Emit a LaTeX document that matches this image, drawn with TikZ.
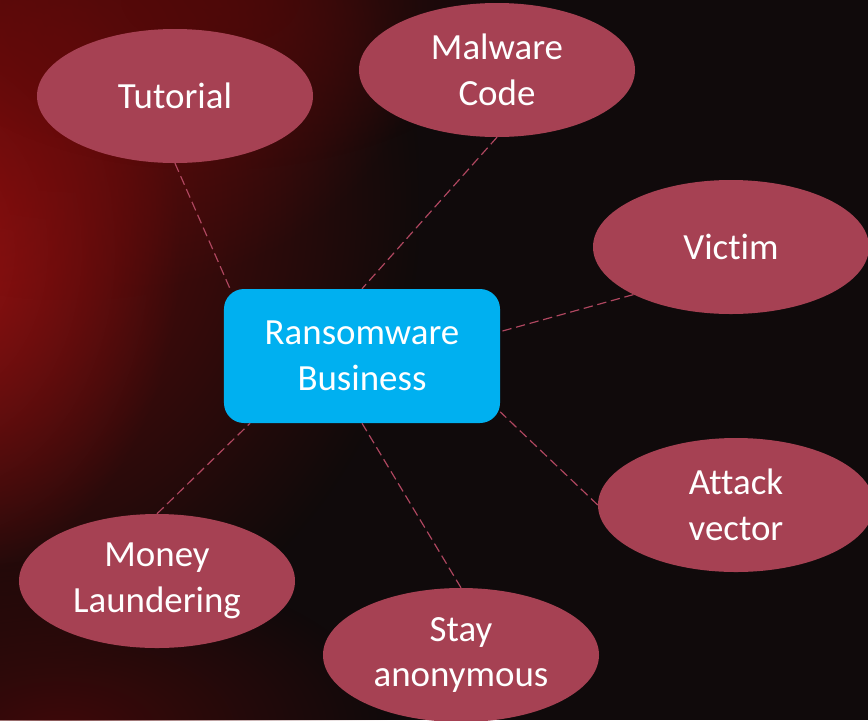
\documentclass[tikz,border=0pt]{standalone}
\usepackage{fontspec}
\setmainfont{Carlito}[Ligatures=CommonOff]
\usepackage{tikz}
\usetikzlibrary{shapes.geometric, positioning, fadings}
\definecolor{bgdark}{HTML}{100A0B}
\definecolor{glowred}{HTML}{9A1212}
\definecolor{glowdeep}{HTML}{6A0A0A}
\definecolor{glowdim}{HTML}{520808}
\definecolor{topicrose}{HTML}{A64153}
\definecolor{hubblue}{HTML}{00B0F0}
\definecolor{linkrose}{HTML}{B04760}
% soft blob, opaque in the middle and clear at the rim
\tikzfading[name=glow, inner color=transparent!0, outer color=transparent!100]

\begin{document}
\begin{tikzpicture}[x=0.03cm, y=-0.03cm,
  every node/.style={font=\fontsize{31.5}{39}\selectfont, text=white, align=center},
  topic/.style={ellipse, fill=topicrose, minimum width=8.28cm, minimum height=4.02cm, inner sep=0pt},
  hub/.style={rectangle, fill=hubblue, rounded corners=0.6cm, minimum width=8.28cm, minimum height=4.02cm, inner sep=0pt},
  link/.style={linkrose, line width=1pt, dash pattern=on 8pt off 4pt}]
  \useasboundingbox (0,0) rectangle (868,720);
  \clip (0,0) rectangle (868,720);
  % dark backdrop with red haze on the left
  \fill[bgdark] (0,0) rectangle (868,720);
  \fill[glowdeep, path fading=glow, opacity=0.9] (-460,-280) rectangle (420,680);
  \fill[glowred, path fading=glow, opacity=0.9] (-300,-80) rectangle (180,580);
  \fill[glowdeep, path fading=glow, opacity=0.8] (-280,-220) rectangle (420,300);
  \fill[glowdim, path fading=glow, opacity=0.7] (-100,-170) rectangle (520,170);
  \fill[glowdim, path fading=glow, opacity=0.7] (-270,560) rectangle (390,900);

  \node[hub] (rb) at (362,356) {Ransomware\\Business};
  \node[topic] (tut) at (175,96) {Tutorial};
  \node[topic] (mal) at (497,70) {Malware\\Code};
  \node[topic] (vic) at (731,247) {Victim};
  \node[topic] (att) at (736,505) {Attack\\vector};
  \node[topic] (anon) at (461,655) {Stay\\anonymous};
  \node[topic] (money) at (157,581) {Money\\Laundering};

  \draw[link] (tut.south) -- (rb.153);
  \draw[link] (mal.south) -- (rb.north);
  \draw[link] (vic.206) -- (rb.10);
  \draw[link] (att.west) -- (rb.-22);
  \draw[link] (anon.north) -- (rb.south);
  \draw[link] (money.north) -- (rb.211);
\end{tikzpicture}
\end{document}
